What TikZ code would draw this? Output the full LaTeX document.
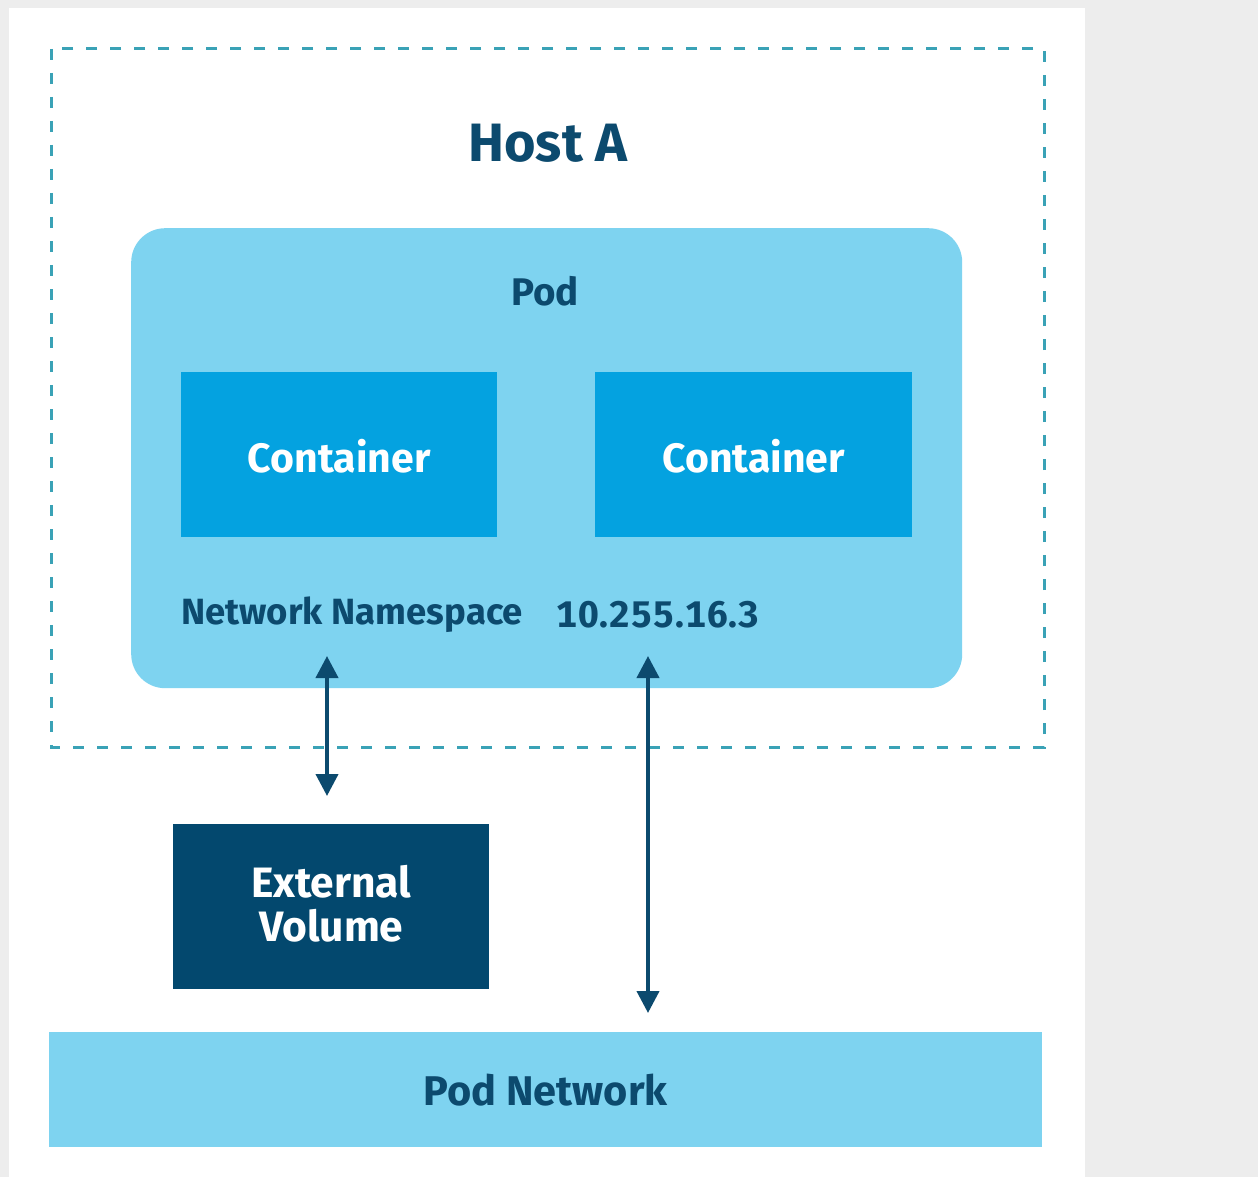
\documentclass[tikz,border=0pt]{standalone}
\usepackage{fontspec}
\setmainfont{Fira Sans}
\usetikzlibrary{arrows.meta}
\definecolor{pagegray}{HTML}{EDEDED}
\definecolor{hostdash}{HTML}{3AA2B6}
\definecolor{podblue}{HTML}{7ED3F0}
\definecolor{ctrblue}{HTML}{04A2E0}
\definecolor{navy}{HTML}{0C4A6E}
\definecolor{volnavy}{HTML}{03486E}
\tikzset{
  box/.style={draw=none, rectangle, inner sep=0pt, anchor=north west},
  ctrbox/.style={box, fill=ctrblue},
  whitetext/.style={text=white, inner sep=0pt, font=\bfseries\fontsize{41}{45}\selectfont},
  label/.style={text=navy, font=\bfseries\fontsize{36.5}{42}\selectfont, inner sep=0pt},
  link/.style={draw=navy, line width=4pt, {Triangle[width=22pt,length=22pt]}-{Triangle[width=22pt,length=22pt]}, shorten <=-1pt, shorten >=-1pt}
}
\begin{document}
\begin{tikzpicture}[x=1pt, y=-1pt]
  % canvas: gray page with white panel
  \useasboundingbox (0,0) rectangle (1258,1177);
  \fill[pagegray] (0,0) rectangle (1258,1177);
  \fill[white] (9,8) rectangle (1085,1177);

  % host boundary
  \draw[hostdash, line width=3pt, dash pattern=on 11pt off 13pt] (51,49) rectangle (1044,747);
  \node[text=navy, font=\bfseries\fontsize{54}{60}\selectfont, inner sep=0pt] (host) at (548,143) {Host A};

  % pod
  \node[box, fill=podblue, rounded corners=34pt, minimum width=831pt, minimum height=460pt] (pod) at (131,228) {};
  \node[label, font=\bfseries\fontsize{38.5}{44}\selectfont] (podlbl) at (545,291) {Pod};

  % containers
  \node[ctrbox, minimum width=316pt, minimum height=165pt] (c1) at (181,372) {};
  \node[ctrbox, minimum width=317pt, minimum height=165pt] (c2) at (595,372) {};
  \node[whitetext] (c1lbl) at ([yshift=-2pt]c1.center) {Container};
  \node[whitetext] (c2lbl) at ([yshift=-2pt]c2.center) {Container};

  % network namespace line
  \node[label, anchor=west] (ns) at (181,615) {Network Namespace};
  \node[label, anchor=west, font=\bfseries\fontsize{37}{42}\selectfont\addfontfeatures{Numbers=Monospaced, LetterSpace=3}] (ip) at (556,615) {10.255.16.3};

  % external volume
  \node[box, fill=volnavy, minimum width=316pt, minimum height=165pt] (vol) at (173,824) {};
  \node[whitetext, font=\bfseries\fontsize{42.5}{44}\selectfont, align=center] (vollbl) at ([yshift=3pt]vol.center) {External\\Volume};

  % pod network
  \node[box, fill=podblue, minimum width=993pt, minimum height=115pt] (podnet) at (49,1032) {};
  \node[label, font=\bfseries\fontsize{41.5}{46}\selectfont] (podnetlbl) at (podnet.center) {Pod Network};

  % connectors
  \coordinate (nsTop) at (327,657);
  \coordinate (volTop) at (327,795);
  \coordinate (ipTop) at (648,657);
  \coordinate (netTop) at (648,1012);
  \draw[link] (nsTop) -- (volTop);
  \draw[link] (ipTop) -- (netTop);
\end{tikzpicture}
\end{document}
